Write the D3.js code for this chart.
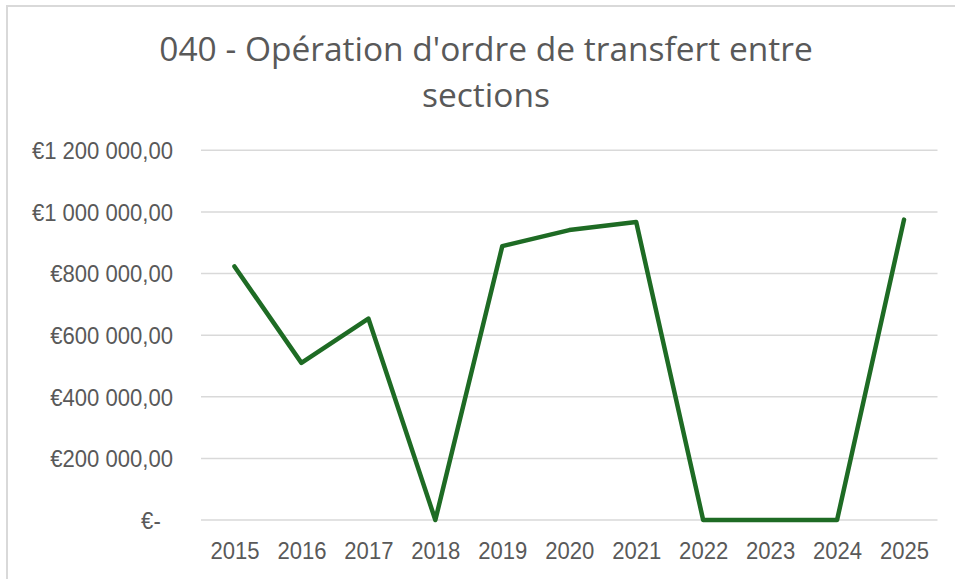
<!DOCTYPE html>
<html>
<head>
<meta charset="utf-8">
<script src="https://cdn.jsdelivr.net/npm/d3@7"></script>
<style>
  html, body { margin: 0; padding: 0; background: #fff; }
  svg { display: block; }
</style>
</head>
<body>
<svg id="chart" width="955" height="579"></svg>
<script>
// Annual amounts for chapter 040 (transfer operations between sections)
const years = ["2015", "2016", "2017", "2018", "2019", "2020", "2021", "2022", "2023", "2024", "2025"];
const amounts = [823000, 510000, 654000, 0, 889000, 941000, 967000, 0, 0, 0, 975000];
const yTicks = [0, 200000, 400000, 600000, 800000, 1000000, 1200000];
const titleLines = ["040 - Opération d'ordre de transfert entre", "sections"];

const W = 955, H = 579;
const plot = { left: 201, right: 937.5, top: 150.3, bottom: 520 };
const textColor = "#595959";
const gridColor = "#d9d9d9";
const lineColor = "#1e6b24";
const squeeze = 0.96;

const svg = d3.select("#chart");

// chart frame
svg.append("rect")
  .attr("x", 7).attr("y", 6)
  .attr("width", W + 20).attr("height", H + 20)
  .attr("fill", "#fff")
  .attr("stroke", gridColor)
  .attr("stroke-width", 2);

// title
const title = svg.append("text")
  .attr("text-anchor", "middle")
  .attr("font-family", "'Open Sans', sans-serif")
  .attr("font-size", 33.5)
  .attr("fill", textColor);
titleLines.forEach((t, i) => {
  title.append("tspan").attr("x", 486).attr("y", 61 + i * 46).text(t);
});

const fr = d3.formatLocale({
  decimal: ",",
  thousands: "\u00a0",
  grouping: [3],
  currency: ["€", ""]
});
const money = fr.format(",.2f");
const fmt = v => v === 0 ? "€-\u00a0\u00a0" : "€" + money(v);

const x = d3.scalePoint().domain(years).range([plot.left, plot.right]).padding(0.5);
const y = d3.scaleLinear().domain([0, 1200000]).range([plot.bottom, plot.top]);

// horizontal gridlines
svg.append("g")
  .selectAll("line")
  .data(yTicks)
  .join("line")
  .attr("x1", plot.left).attr("x2", plot.right)
  .attr("y1", d => y(d)).attr("y2", d => y(d))
  .attr("stroke", gridColor)
  .attr("stroke-width", 1.5);

// y axis labels
const yAxis = svg.append("g")
  .attr("transform", `translate(${plot.left},0)`)
  .call(d3.axisLeft(y).tickValues(yTicks).tickFormat(fmt).tickSize(0).tickPadding(0));
yAxis.select(".domain").remove();
yAxis.selectAll("text")
  .attr("x", null)
  .attr("dy", "0.36em")
  .attr("font-family", "'Liberation Sans', Arial, sans-serif")
  .attr("font-size", 23)
  .attr("fill", textColor)
  .attr("transform", `translate(-28,0) scale(${squeeze},1)`);

// x axis labels
const xAxis = svg.append("g")
  .attr("transform", `translate(0,${plot.bottom})`)
  .call(d3.axisBottom(x).tickSize(0).tickPadding(0));
xAxis.select(".domain").remove();
xAxis.selectAll("text")
  .attr("y", 0)
  .attr("dy", "1.68em")
  .attr("font-family", "'Liberation Sans', Arial, sans-serif")
  .attr("font-size", 23)
  .attr("fill", textColor)
  .attr("transform", `scale(${squeeze},1)`);

// series line
const line = d3.line()
  .x((d, i) => x(years[i]))
  .y(d => y(d));

svg.append("path")
  .datum(amounts)
  .attr("d", line)
  .attr("fill", "none")
  .attr("stroke", lineColor)
  .attr("stroke-width", 4.5)
  .attr("stroke-linejoin", "round")
  .attr("stroke-linecap", "round");
</script>
</body>
</html>
